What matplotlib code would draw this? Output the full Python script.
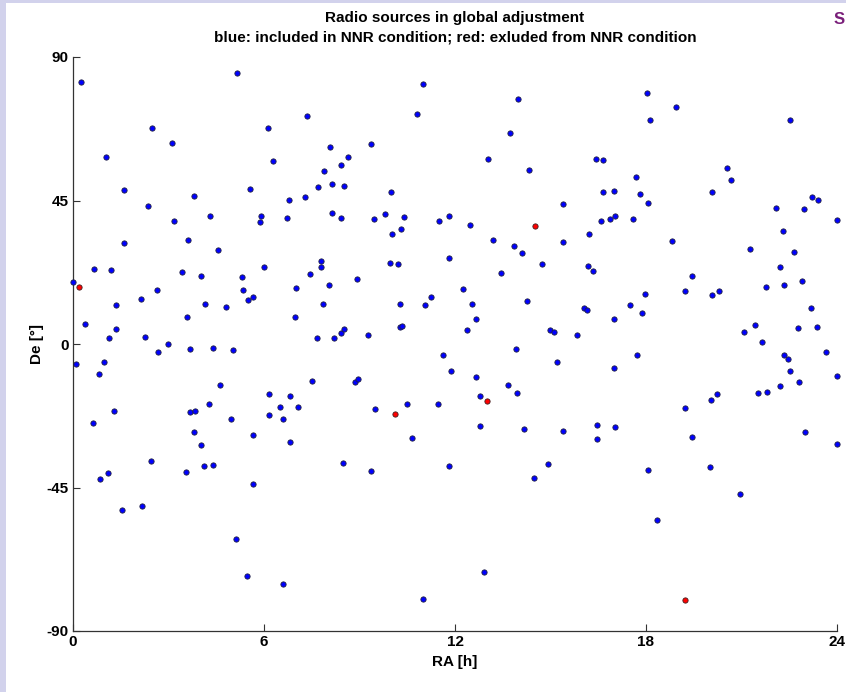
import matplotlib
matplotlib.use("Agg")
import matplotlib.pyplot as plt
from matplotlib.patches import Rectangle

plt.rcParams['font.family'] = ['Liberation Sans', 'DejaVu Sans']

# Radio sources included in NNR condition (RA [h], De [deg])
blue_ra = [
    0.26, 5.14, 7.36, 2.48, 6.12, 3.10, 8.08, 1.05, 6.27, 7.87, 1.59, 5.55, 7.70, 3.80,
    2.37, 6.77, 7.29, 4.31, 5.90, 3.18, 5.86, 6.73, 1.59, 3.60, 4.56, 0.67, 1.19, 3.42,
    4.02, 5.31, 5.99, 7.78, 7.80, 7.43, 0.00, 8.04, 2.64, 5.35, 7.00, 2.15, 5.50, 5.67,
    1.36, 4.14, 4.82, 7.85, 0.37, 3.59, 6.97, 1.36, 1.13, 2.27, 7.65, 2.98,
    10.98, 13.99, 10.81, 13.73, 9.35, 8.63, 8.41, 13.05, 14.34, 8.15, 8.52, 9.98, 15.39,
    8.15, 8.41, 9.45, 9.81, 10.40, 11.50, 11.81, 12.48, 10.03, 10.30, 13.18, 13.86, 14.12,
    16.22, 15.39, 9.96, 10.22, 11.80, 13.44, 14.73, 16.19, 8.92, 10.28, 11.05, 11.24,
    12.26, 12.53, 12.67, 14.27, 16.05, 16.16, 8.19, 8.43, 8.52, 9.26, 10.28, 10.34, 12.37,
    14.99, 15.11, 15.84, 13.91,
    18.02, 18.93, 18.13, 22.53, 16.43, 16.65, 20.54, 20.67, 17.69, 16.65, 16.99, 17.80,
    18.06, 20.06, 23.21, 23.40, 22.95, 22.07, 24.00, 16.60, 16.88, 17.04, 17.59, 22.29,
    18.83, 21.27, 22.64, 16.33, 22.21, 19.46, 22.90, 17.96, 19.21, 20.06, 20.28, 21.76,
    22.34, 17.49, 17.89, 16.99, 23.19, 21.42, 21.07, 22.77, 23.36, 21.64,
    0.08, 0.97, 0.83, 2.66, 3.66, 4.39, 5.02, 4.63, 7.51, 6.16, 6.83, 1.29, 3.66, 3.83,
    4.27, 6.49, 7.06, 6.16, 6.60, 4.95, 0.63, 3.81, 5.67, 4.03, 6.82, 2.46, 4.12, 4.41,
    3.56, 0.85, 1.09, 5.65, 1.55, 2.18, 5.12, 5.48, 6.60,
    11.61, 15.19, 11.88, 12.67, 8.85, 8.94, 13.65, 13.96, 12.77, 9.48, 10.50, 11.46,
    12.80, 14.18, 15.39, 10.64, 8.48, 9.37, 11.80, 14.92, 14.47, 12.91, 10.98,
    17.73, 16.99, 22.34, 22.46, 23.66, 22.51, 23.99, 22.80, 22.22, 21.52, 21.79, 20.04,
    20.22, 19.21, 16.45, 17.04, 16.45, 19.43, 23.00, 24.00, 18.06, 20.00, 20.96, 18.34,
]
blue_de = [
    82.1, 84.9, 71.6, 67.7, 67.7, 62.9, 61.9, 58.7, 57.4, 54.2, 48.2, 48.7, 49.3, 46.5,
    43.4, 45.1, 46.0, 40.2, 40.2, 38.6, 38.3, 39.5, 31.8, 32.5, 29.4, 23.5, 23.1, 22.6,
    21.4, 21.1, 24.2, 26.0, 24.2, 22.0, 19.4, 18.5, 16.8, 16.8, 17.5, 14.1, 13.9, 14.8,
    12.1, 12.4, 11.7, 12.6, 6.4, 8.4, 8.6, 4.7, 1.8, 2.1, 1.8, -0.1,
    81.5, 76.9, 72.1, 66.3, 62.6, 58.7, 56.1, 58.1, 54.7, 50.1, 49.4, 47.7, 43.8,
    41.2, 39.5, 39.2, 40.9, 39.9, 38.5, 40.2, 37.3, 34.6, 36.1, 32.7, 30.7, 28.6,
    34.4, 32.0, 25.5, 25.0, 26.9, 22.3, 25.2, 24.5, 20.4, 12.6, 12.1, 14.8,
    17.2, 12.6, 7.8, 13.6, 11.3, 10.8, 2.0, 3.4, 4.6, 2.9, 5.4, 5.5, 4.4,
    4.4, 3.7, 2.7, -1.7,
    78.8, 74.2, 70.1, 70.1, 58.0, 57.6, 55.2, 51.5, 52.5, 47.7, 47.9, 47.1,
    44.2, 47.7, 46.0, 45.1, 42.3, 42.6, 39.0, 38.5, 39.2, 40.2, 39.2, 35.5,
    32.4, 29.8, 28.8, 23.0, 24.1, 21.3, 19.8, 15.8, 16.5, 15.3, 16.7, 18.0,
    18.4, 12.3, 9.7, 7.8, 11.2, 5.9, 3.9, 5.1, 5.3, 0.7,
    -6.3, -5.5, -9.3, -2.4, -1.7, -1.2, -1.9, -12.8, -11.6, -15.7, -16.4, -21.0, -21.2, -21.0,
    -18.8, -19.8, -19.8, -22.2, -23.4, -23.4, -24.9, -27.7, -28.5, -31.6, -30.6, -36.7, -38.4, -37.9,
    -40.0, -42.2, -40.6, -43.9, -52.0, -50.9, -61.1, -72.7, -75.2,
    -3.4, -5.5, -8.5, -10.3, -12.0, -10.9, -12.8, -15.5, -16.2, -20.5, -18.8, -18.8,
    -25.6, -26.8, -27.3, -29.5, -37.4, -39.8, -38.2, -37.6, -42.0, -71.5, -80.0,
    -3.6, -7.4, -3.4, -4.8, -2.4, -8.5, -10.1, -12.0, -13.3, -15.5, -15.1, -17.6,
    -15.7, -20.1, -25.4, -26.0, -29.7, -29.2, -27.7, -31.4, -39.5, -38.6, -47.0, -55.3,
]

# Radio sources excluded from NNR condition
red_ra = [0.18, 14.51, 12.99, 10.11, 19.24]
red_de = [17.8, 37.1, -17.9, -21.9, -80.2]

x_ticks = [0, 6, 12, 18, 24]
y_ticks = [-90, -45, 0, 45, 90]

title_line1 = "Radio sources in global adjustment"
title_line2 = "blue: included in NNR condition; red: exluded from NNR condition"

W, H = 846, 692
fig = plt.figure(figsize=(W / 100, H / 100), dpi=100)
fig.patch.set_facecolor('white')

# slide decoration (lavender frame strips)
fig.patches.append(Rectangle((0, 0), 6 / W, 1, transform=fig.transFigure,
                             facecolor='#d2d2ec', edgecolor='none', zorder=0))
fig.patches.append(Rectangle((0, 1 - 3 / H), 1, 3 / H, transform=fig.transFigure,
                             facecolor='#d2d2ec', edgecolor='none', zorder=0))
fig.text(845 / W, 1 - 12 / H, "S", color='#7a1f7a', fontsize=12, fontweight='bold',
         ha='right', va='top')

ax = fig.add_axes([73 / W, 1 - 631 / H, (837 - 73) / W, (631 - 57) / H])

ax.plot(blue_ra, blue_de, linestyle='none', marker='o', markersize=3.8,
        markerfacecolor='#0000ff', markeredgecolor='#202040', markeredgewidth=0.6,
        clip_on=False, zorder=3)
ax.plot(red_ra, red_de, linestyle='none', marker='o', markersize=3.8,
        markerfacecolor='#ff0000', markeredgecolor='#402020', markeredgewidth=0.6,
        clip_on=False, zorder=3)

ax.set_xlim(0, 24)
ax.set_ylim(-90, 90)
ax.set_xticks(x_ticks)
ax.set_yticks(y_ticks)
ax.set_xticklabels([str(v) for v in x_ticks], fontweight='bold', fontsize=11)
ax.set_yticklabels([str(v) for v in y_ticks], fontweight='bold', fontsize=11)
ax.tick_params(direction='in', length=5, width=0.8, color='#333333', pad=3)

for s in ['top', 'right']:
    ax.spines[s].set_visible(False)
for s in ['left', 'bottom']:
    ax.spines[s].set_color('#333333')
    ax.spines[s].set_linewidth(0.9)

ax.set_xlabel("RA [h]", fontweight='bold', fontsize=11, labelpad=4)
ax.set_ylabel("De [°]", fontweight='bold', fontsize=11, labelpad=2)

fig.text(455 / W, 1 - 18 / H, title_line1, fontweight='bold', fontsize=11,
         ha='center', va='center')
fig.text(455 / W, 1 - 38 / H, title_line2, fontweight='bold', fontsize=11,
         ha='center', va='center')

fig.savefig("out.png", dpi=100, facecolor=fig.get_facecolor())
